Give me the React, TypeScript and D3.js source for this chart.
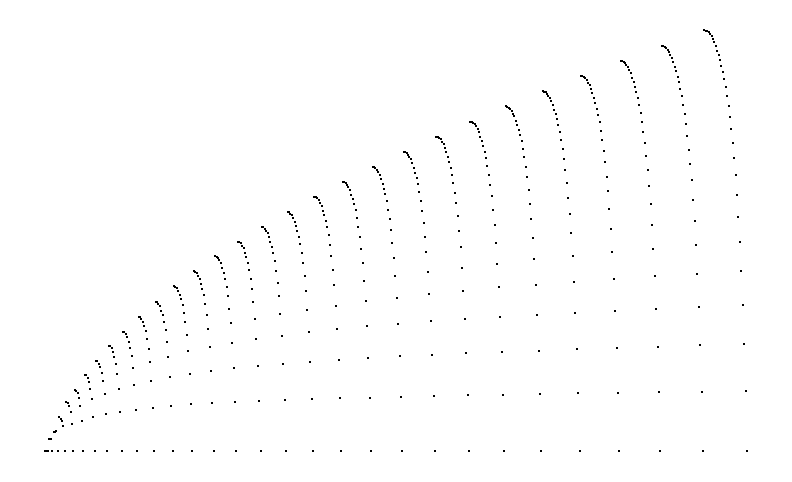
import React from "react";
import * as d3 from "d3";

const width = 792,
  height = 482;

// top of every column (m = 0..30), in log units
const columnTops = [
  0, 0, 0.693, 1.09, 1.93, 2.78, 3.45, 4.3, 5.09, 5.93, 6.72, 7.57, 8.41,
  9.27, 10.12, 10.97, 11.79, 12.62, 13.46, 14.31, 15.17, 16.0, 16.86, 17.71,
  18.55, 19.41, 20.26, 21.13, 21.99, 22.83, 23.7
];

// shape of a column, bottom to top, as a share of its top (read from the last column)
const profile = [
  0, 0.143, 0.254, 0.347, 0.428, 0.497, 0.556, 0.609, 0.657, 0.697, 0.731,
  0.766, 0.795, 0.821, 0.844, 0.866, 0.885, 0.902, 0.916, 0.929, 0.941,
  0.952, 0.963, 0.973, 0.979, 0.986, 0.991, 0.995, 0.998, 0.9994, 1
];

// the first few columns are too small for the profile, read one by one
const earlyColumns = [
  [0],
  [0, 0],
  [0, 0.693, 0.693],
  [0, 1.099, 1.09, 1.09],
  [0, 1.386, 1.67, 1.79, 1.93]
];

const pointCount = (columnTops.length * (columnTops.length + 1)) / 2;

const x = d3.scaleLinear().domain([0, pointCount - 1]).range([45, 747]);
const y = d3.scaleLinear().domain([0, 24]).range([451, 25]);
const shape = d3
  .scaleLinear()
  .domain(profile.map((_, i) => i / (profile.length - 1)))
  .range(profile);

const points = [];
columnTops.forEach((top, m) => {
  const start = (m * (m + 1)) / 2;
  for (let k = 0; k <= m; k++) {
    const value =
      m < earlyColumns.length ? earlyColumns[m][k] : top * shape(k / m);
    points.push({ index: start + (m - k), value });
  }
});

export default function App() {
  return (
    <svg
      width={width}
      height={height}
      style={{ position: "absolute", left: 0, top: 0, background: "#fff" }}
    >
      <g shapeRendering="crispEdges">
        {points.map((p, i) => (
          <rect
            key={i}
            x={x(p.index) - 1}
            y={y(p.value) - 1}
            width={2}
            height={2}
            fill="#000"
          />
        ))}
      </g>
    </svg>
  );
}
